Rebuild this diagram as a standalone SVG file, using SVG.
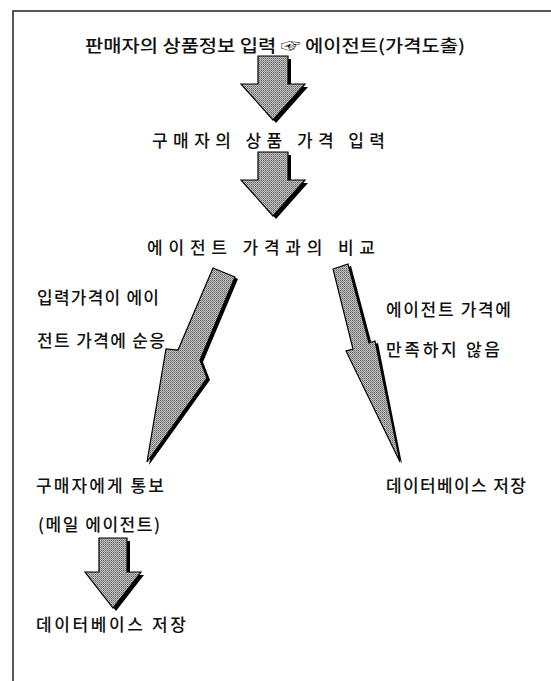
<svg xmlns="http://www.w3.org/2000/svg" width="551" height="681" viewBox="0 0 551 681">
<defs>
<pattern id="dith" width="2" height="2" patternUnits="userSpaceOnUse">
<rect width="2" height="2" fill="#c4c4c4"/>
<rect x="0" y="0" width="1" height="1" fill="#606060"/>
<rect x="1" y="1" width="1" height="1" fill="#8a8a8a"/>
</pattern>
<path id="downArrow" d="M-15,0 H15 V28 H32 L0,64 L-32,28 H-15 Z"/>
<path id="downArrowSmall" d="M-14,0 H14 V34 H28 L0,70 L-28,34 H-14 Z"/>
</defs>
<style>
text{font-family:"Noto Sans CJK KR","Noto Sans",sans-serif;fill:#111;font-weight:500}
.t{font-size:17px}
.shadow{fill:#000}
.body{fill:url(#dith);stroke:#000;stroke-width:1.2;stroke-linejoin:miter}
.frame{stroke:#222;stroke-width:1.5;fill:none}
</style>
<rect width="551" height="681" fill="#fff"/>
<path class="frame" d="M13,681 V11 H551"/>
<g id="connectors">
<g id="arrow1">
<use href="#downArrow" class="shadow" transform="translate(276,59)"/>
<use href="#downArrow" class="body" transform="translate(273,56)"/>
</g>
<g id="arrow2">
<use href="#downArrow" class="shadow" transform="translate(276,155)"/>
<use href="#downArrow" class="body" transform="translate(273,152)"/>
</g>
<g id="arrow-left">
<path class="shadow" d="M217,270 L238,279 L203,362 L210,380 L149,465 L169,351 L181,352 Z"/>
<path class="body" d="M213,268 L235,277 L200,360 L207,378 L147,462 L166,349 L178,350 Z"/>
</g>
<g id="arrow-right">
<path class="shadow" d="M336,271 L351,266 L372,345 L378,343 L402,464 L349,353 L356,351 Z"/>
<path class="body" d="M333,269 L348,264 L369,343 L375,341 L400,462 L346,351 L353,349 Z"/>
</g>
<g id="arrow3">
<use href="#downArrowSmall" class="shadow" transform="translate(116,541)"/>
<use href="#downArrowSmall" class="body" transform="translate(113,538)"/>
</g>
</g>
<g id="node-seller"><text class="t" x="85" y="52" textLength="380" lengthAdjust="spacingAndGlyphs">판매자의 상품정보 입력 ☞ 에이전트(가격도출)</text></g>
<g id="node-buyer"><text class="t" x="152" y="147" textLength="233" lengthAdjust="spacing">구매자의 상품 가격 입력</text></g>
<g id="node-compare"><text class="t" x="147" y="254" textLength="228" lengthAdjust="spacing">에이전트 가격과의 비교</text></g>
<g id="label-left"><text class="t" x="37" y="304" textLength="122" lengthAdjust="spacing">입력가격이 에이</text><text class="t" x="37" y="347" textLength="128" lengthAdjust="spacing">전트 가격에 순응</text></g>
<g id="label-right"><text class="t" x="386" y="316" textLength="125" lengthAdjust="spacing">에이전트 가격에</text><text class="t" x="386" y="356" textLength="114" lengthAdjust="spacing">만족하지 않음</text></g>
<g id="node-notify"><text class="t" x="36" y="492" textLength="128" lengthAdjust="spacing">구매자에게 통보</text><text class="t" x="38" y="531" textLength="122" lengthAdjust="spacing">(메일 에이전트)</text></g>
<g id="node-db-right"><text class="t" x="386" y="492" textLength="140" lengthAdjust="spacing">데이터베이스 저장</text></g>
<g id="node-db-bottom"><text class="t" x="36" y="631" textLength="150" lengthAdjust="spacing">데이터베이스 저장</text></g>
</svg>
